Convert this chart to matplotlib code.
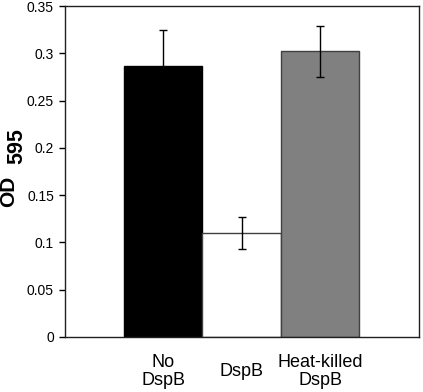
import matplotlib.pyplot as plt
import numpy as np

plt.rcParams['font.family'] = ['Liberation Sans', 'DejaVu Sans']

# data
categories = ['No\nDspB', 'DspB', 'Heat-killed\nDspB']
od_values = [0.287, 0.110, 0.302]
od_errors = [0.038, 0.017, 0.027]
bar_colors = ['#000000', '#ffffff', '#808080']
edge_colors = ['#000000', '#404040', '#404040']
y_ticks = [0, 0.05, 0.1, 0.15, 0.2, 0.25, 0.3, 0.35]
y_ticklabels = ['0', '0.05', '0.1', '0.15', '0.2', '0.25', '0.3', '0.35']

fig = plt.figure(figsize=(4.23, 3.92), dpi=100)
ax = fig.add_axes([65 / 423, 55 / 392, 354 / 423, 331 / 392])

x = np.arange(len(categories))
ax.bar(x, od_values, width=1.0, color=bar_colors, edgecolor=edge_colors, linewidth=1.0, zorder=2)
ax.errorbar(x, od_values, yerr=od_errors, fmt='none', ecolor='black',
            elinewidth=1.0, capsize=2.6, capthick=1.0, zorder=3)

ax.set_xlim(-1.248, 3.26)
ax.set_ylim(0, 0.35)
ax.set_yticks(y_ticks)
ax.set_yticklabels(y_ticklabels, fontsize=10)
ax.set_xticks(x)
ax.set_xticklabels(categories, fontsize=13, va='center', linespacing=1.1)
ax.tick_params(axis='x', length=0, pad=25)
ax.tick_params(axis='y', direction='out', length=4, width=1, pad=4)

for spine in ax.spines.values():
    spine.set_linewidth(1.0)
    spine.set_color('#202020')

# y label: "OD" with a same-size, lowered "595"
fig.text(8.5 / 423, 1 - 191 / 392, 'OD', rotation=90, fontsize=15, fontweight='bold',
         ha='center', va='center')
fig.text(17 / 423, 1 - 146 / 392, '595', rotation=90, fontsize=15.5, fontweight='bold',
         ha='center', va='center')

fig.savefig('out.png', dpi=100)
